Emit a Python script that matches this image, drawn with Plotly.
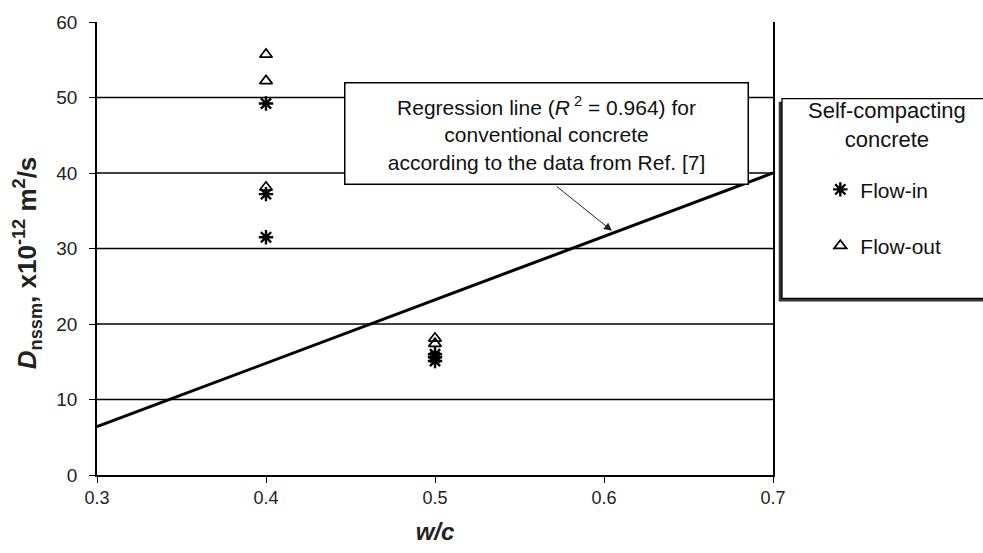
import plotly.graph_objects as go

# ---- data ----
wc_flow_in = [0.4, 0.4, 0.4, 0.5, 0.5, 0.5]
d_flow_in = [49.2, 37.2, 31.5, 16.0, 15.6, 15.1]

wc_flow_out = [0.4, 0.4, 0.4, 0.5, 0.5]
d_flow_out = [55.7, 52.2, 38.1, 18.1, 17.4]

reg_wc = [0.3, 0.7]
reg_d = [6.4, 40.0]

x_ticks = [0.3, 0.4, 0.5, 0.6, 0.7]
y_ticks = [0, 10, 20, 30, 40, 50, 60]

FONT = "Liberation Sans, Arial, sans-serif"

fig = go.Figure()

fig.add_trace(go.Scatter(
    x=reg_wc, y=reg_d, mode="lines",
    line=dict(color="black", width=3),
    showlegend=False, hoverinfo="skip"))

fig.add_trace(go.Scatter(
    x=wc_flow_in, y=d_flow_in, mode="markers", name="Flow-in",
    legendgroup="a",
    marker=dict(symbol="asterisk-open", size=12, color="black",
                line=dict(color="black", width=2.4))))

fig.add_trace(go.Scatter(
    x=wc_flow_out, y=d_flow_out, mode="markers", name="Flow-out",
    legendgroup="b",
    marker=dict(symbol="triangle-up-open", size=11, color="black",
                line=dict(color="black", width=1.7))))

# horizontal gridlines (excluding axis ends)
shapes = []
for v in y_ticks[1:-1]:
    shapes.append(dict(type="line", xref="paper", yref="y", x0=0, x1=1,
                       y0=v, y1=v, line=dict(color="black", width=1.4),
                       layer="below"))

# legend box with shadow (paper coordinates)
shapes.append(dict(type="rect", xref="paper", yref="paper",
                   x0=1.0085, x1=1.34, y0=0.383, y1=0.824,
                   fillcolor="#333333", line=dict(width=0)))
shapes.append(dict(type="rect", xref="paper", yref="paper",
                   x0=1.0133, x1=1.34, y0=0.390, y1=0.831,
                   fillcolor="white", line=dict(color="black", width=1.3)))

# arrow head on regression line
x_head = 0.6047
y_head = reg_d[0] + (reg_d[1] - reg_d[0]) * (x_head - reg_wc[0]) / (reg_wc[1] - reg_wc[0]) + 0.35

annotations = [
    dict(x=0.5657, y=45.2, xref="x", yref="y",
         text="Regression line (<i>R</i><sup> 2</sup> = 0.964) for<br>conventional concrete<br>according to the data from Ref. [7]",
         showarrow=False, font=dict(family=FONT, size=21, color="#111"),
         bgcolor="white", bordercolor="black", borderwidth=1.5,
         width=398, height=96, borderpad=2, align="center"),
    dict(x=x_head, y=y_head, xref="x", yref="y",
         ax=0.571, ay=38.4, axref="x", ayref="y",
         text="", showarrow=True, arrowhead=2, arrowsize=1.6,
         arrowwidth=1, arrowcolor="#222"),
    dict(x=1.168, y=0.772, xref="paper", yref="paper",
         xanchor="center", yanchor="middle",
         text="Self-compacting<br>concrete", showarrow=False,
         font=dict(family=FONT, size=22, color="#111"), align="center"),
]

fig.update_layout(
    width=983, height=553,
    margin=dict(l=97, r=210, t=22, b=75),
    paper_bgcolor="white", plot_bgcolor="white",
    font=dict(family=FONT, color="#222"),
    shapes=shapes,
    annotations=annotations,
    showlegend=True,
    legend=dict(x=1.07, y=0.675, xanchor="left", yanchor="top",
                bgcolor="rgba(0,0,0,0)", borderwidth=0,
                font=dict(family=FONT, size=21, color="#111"),
                tracegroupgap=26, itemsizing="trace"),
    xaxis=dict(range=[0.3, 0.7], tickvals=x_ticks,
               ticktext=[f"{v:.1f}" for v in x_ticks],
               showgrid=False, zeroline=False,
               showline=True, linecolor="black", linewidth=1.5,
               ticks="outside", ticklen=6, tickcolor="black", tickwidth=1.3,
               tickfont=dict(family=FONT, size=18, color="#222"),
               title=dict(text="<b><i>w/c</i></b>", standoff=16,
                          font=dict(family=FONT, size=24, color="#222"))),
    yaxis=dict(range=[0, 60], tickvals=y_ticks,
               showgrid=False, zeroline=False,
               showline=True, linecolor="black", linewidth=1.5, mirror=True,
               ticks="outside", ticklen=6, tickcolor="black", tickwidth=1.3,
               ticklabelstandoff=8,
               tickfont=dict(family=FONT, size=19, color="#222"),
               title=dict(text="<b><i>D</i><sub>nssm</sub>, x10<sup>-12</sup> m<sup>2</sup>/s&nbsp;&nbsp;&nbsp;&nbsp;</b>",
                          standoff=12,
                          font=dict(family=FONT, size=26, color="#222"))),
)

fig.write_html("out.html", config={"displayModeBar": False},
               post_script="document.body.style.margin='0';")
